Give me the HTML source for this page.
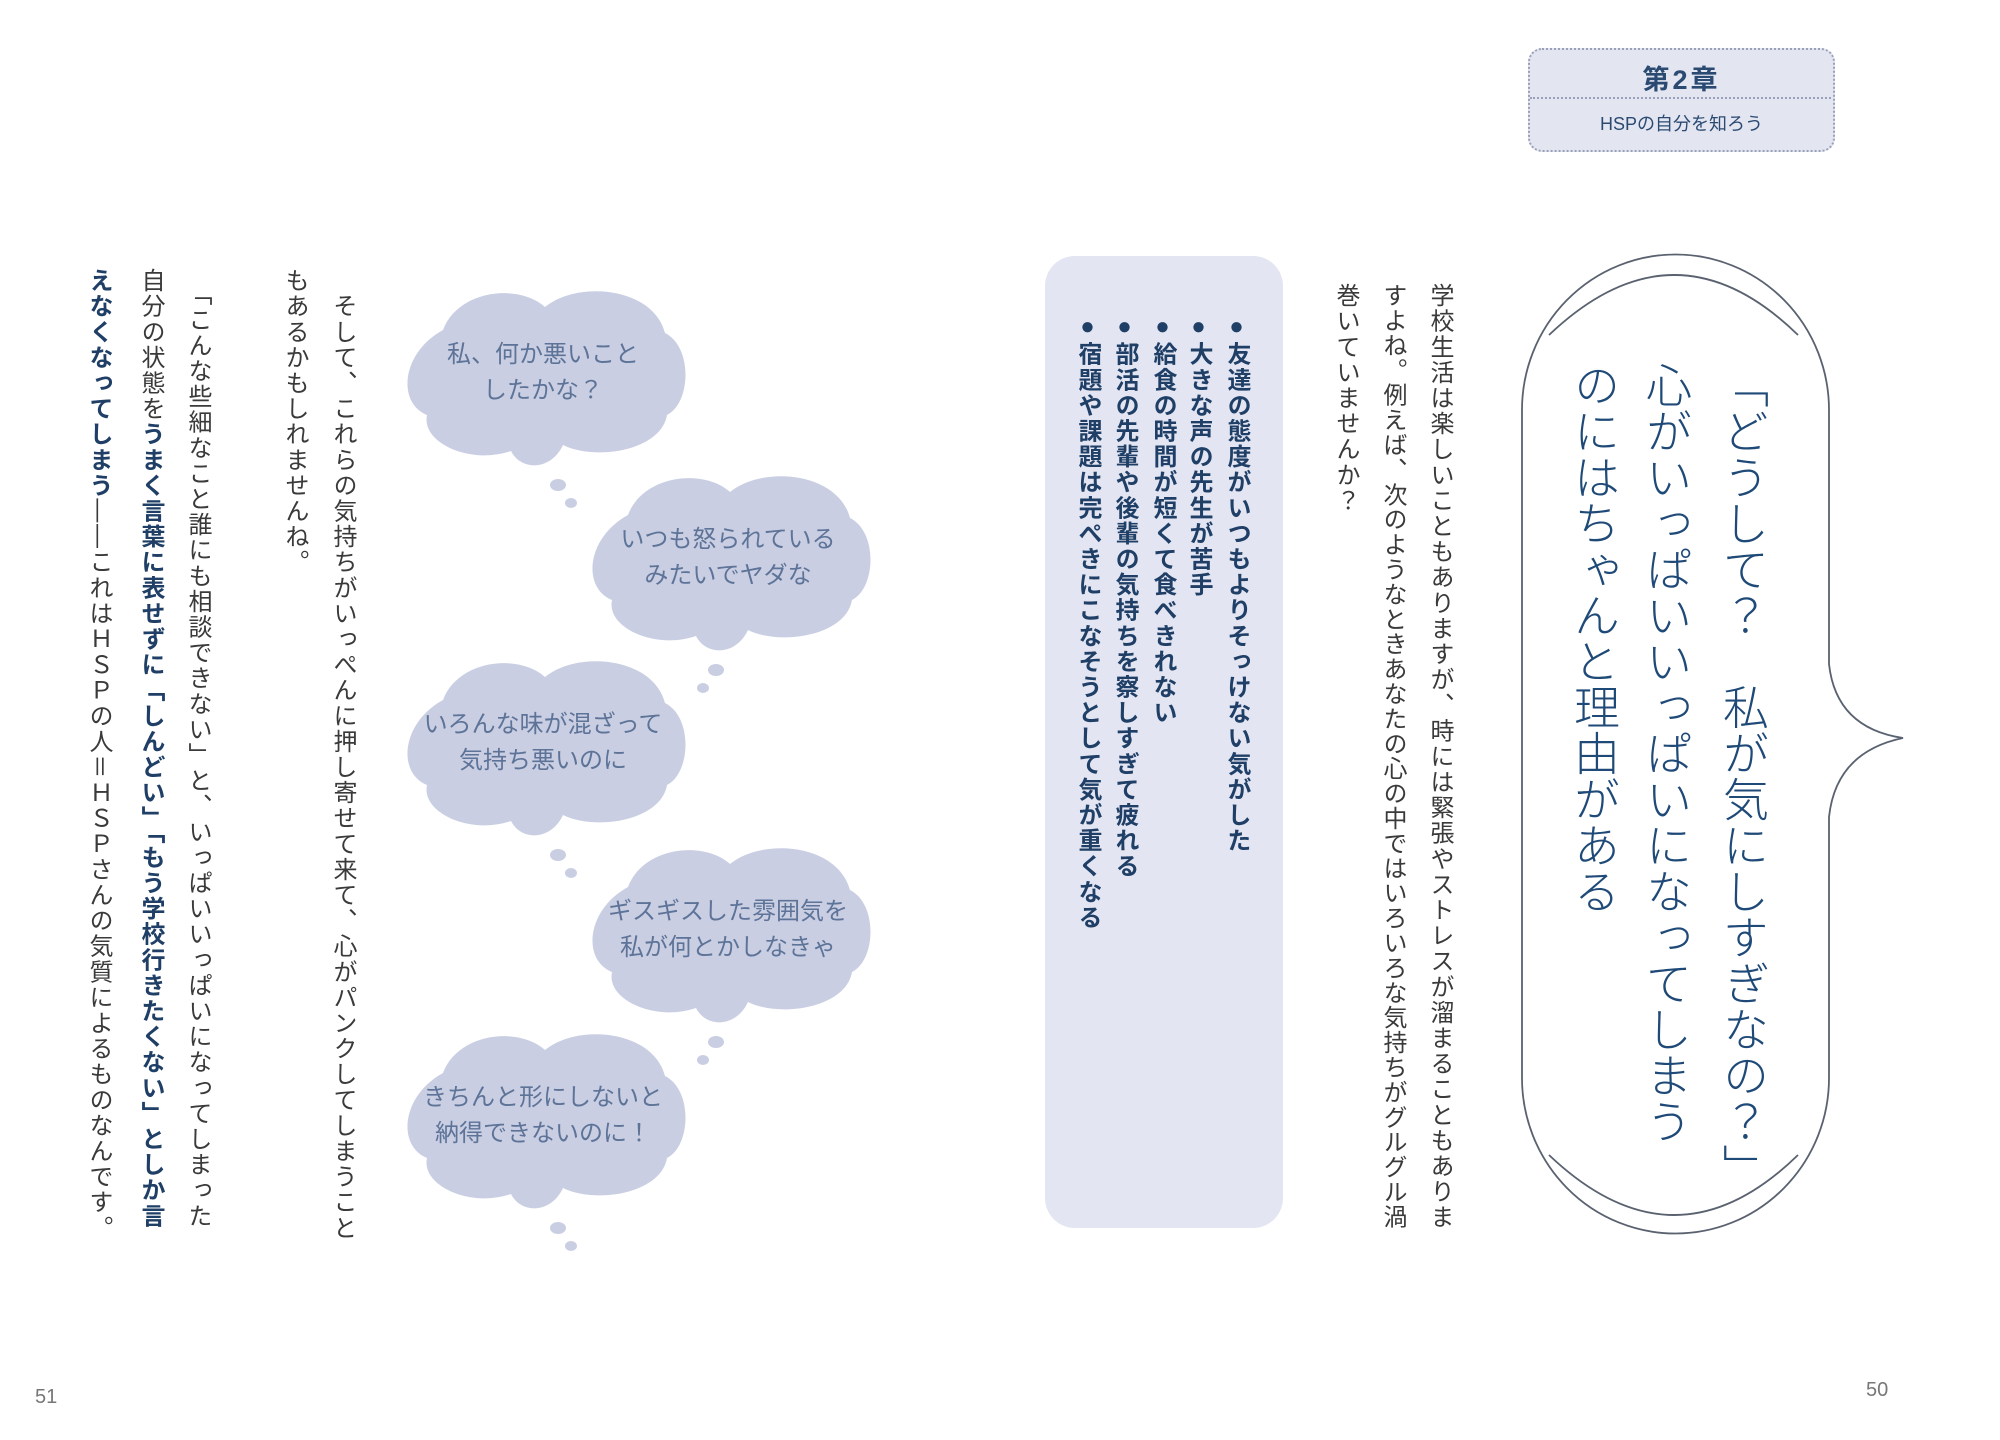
<!DOCTYPE html>
<html><head><meta charset="utf-8">
<style>
html,body{margin:0;padding:0;background:#fff;}
body{width:2000px;height:1440px;position:relative;overflow:hidden;font-family:"Liberation Sans","Noto Sans CJK JP",sans-serif;}
.v{position:absolute;writing-mode:vertical-rl;white-space:nowrap;font-size:24px;letter-spacing:1.6px;line-height:30px;width:30px;color:#3a3a3a;}
.b{font-weight:bold;color:#1f3f66;}
.bl{font-weight:bold;color:#1f3f66;font-size:24px;letter-spacing:1.6px;}
.h{position:absolute;writing-mode:vertical-rl;white-space:nowrap;font-size:46px;line-height:60px;width:60px;color:#1f4a78;letter-spacing:0px;font-weight:300;}
.ct{position:absolute;text-align:center;color:#5d7397;font-size:24px;line-height:36px;width:280px;}
.pn{position:absolute;color:#777;font-size:20px;}
</style></head><body>

<div style="position:absolute;left:1528px;top:48px;width:303px;height:100px;background:#e3e5f1;border:2px dotted #9aa0b8;border-radius:14px;"></div>
<div style="position:absolute;left:1530px;top:97px;width:301px;border-top:2px dotted #9aa0b8;"></div>
<div style="position:absolute;left:1528px;top:58px;width:307px;text-align:center;font-size:27px;font-weight:bold;color:#2a4a72;letter-spacing:3px;">第2章</div>
<div style="position:absolute;left:1528px;top:110px;width:307px;text-align:center;font-size:18px;color:#2a4a72;">HSPの自分を知ろう</div>

<svg width="2000" height="1440" style="position:absolute;left:0;top:0">
 <path d="M1522,410 A153,155 0 0 1 1829,410 L1829,664 Q1836,728 1903,738 Q1836,752 1829,817 L1829,1078 A153,155 0 0 1 1522,1078 Z" fill="none" stroke="#5a6270" stroke-width="1.8"/>
 <path d="M1549,335 Q1675,215 1798,335" fill="none" stroke="#5a6270" stroke-width="1.8"/>
 <path d="M1549,1155 Q1675,1275 1798,1155" fill="none" stroke="#5a6270" stroke-width="1.8"/>
 <rect x="1045" y="256" width="238" height="972" rx="30" fill="#e3e5f2"/>
 <defs>
  <path id="cl" d="M40,55 C55,15 115,8 142,32 C175,5 250,12 262,58 C290,72 288,128 264,140 C258,176 192,186 160,170 C148,196 118,196 108,176 C68,190 18,168 24,140 C-6,128 -2,78 40,55 Z" fill="#c9cee3"/>
 </defs>
 <g transform="translate(403,275)"><use href="#cl"/><ellipse cx="155" cy="210" rx="8" ry="6" fill="#c9cee3"/><ellipse cx="168" cy="228" rx="6" ry="5" fill="#c9cee3"/></g>
 <g transform="translate(588,460)"><use href="#cl"/><ellipse cx="128" cy="210" rx="8" ry="6" fill="#c9cee3"/><ellipse cx="115" cy="228" rx="6" ry="5" fill="#c9cee3"/></g>
 <g transform="translate(403,645)"><use href="#cl"/><ellipse cx="155" cy="210" rx="8" ry="6" fill="#c9cee3"/><ellipse cx="168" cy="228" rx="6" ry="5" fill="#c9cee3"/></g>
 <g transform="translate(588,832)"><use href="#cl"/><ellipse cx="128" cy="210" rx="8" ry="6" fill="#c9cee3"/><ellipse cx="115" cy="228" rx="6" ry="5" fill="#c9cee3"/></g>
 <g transform="translate(403,1018)"><use href="#cl"/><ellipse cx="155" cy="210" rx="8" ry="6" fill="#c9cee3"/><ellipse cx="168" cy="228" rx="6" ry="5" fill="#c9cee3"/></g>
</svg>

<div class="ct" style="left:403px;top:337px;">私、何か悪いこと<br>したかな？</div>
<div class="ct" style="left:588px;top:522px;">いつも怒られている<br>みたいでヤダな</div>
<div class="ct" style="left:403px;top:707px;">いろんな味が混ざって<br>気持ち悪いのに</div>
<div class="ct" style="left:588px;top:894px;">ギスギスした雰囲気を<br>私が何とかしなきゃ</div>
<div class="ct" style="left:403px;top:1080px;">きちんと形にしないと<br>納得できないのに！</div>

<div class="h" style="left:1713px;top:362px;">「どうして？　私が気にしすぎなの？」</div>
<div class="h" style="left:1636px;top:362px;">心がいっぱいいっぱいになってしまう</div>
<div class="h" style="left:1564px;top:362px;">のにはちゃんと理由がある</div>

<div class="v" style="left:1424px;top:283px;">学校生活は楽しいこともありますが、時には緊張やストレスが溜まることもありま</div>
<div class="v" style="left:1377px;top:283px;letter-spacing:0.9px;">すよね。例えば、次のようなときあなたの心の中ではいろいろな気持ちがグルグル渦</div>
<div class="v" style="left:1330px;top:283px;">巻いていませんか？</div>

<div class="v bl" style="left:1221px;top:313px;">●友達の態度がいつもよりそっけない気がした</div>
<div class="v bl" style="left:1183px;top:313px;">●大きな声の先生が苦手</div>
<div class="v bl" style="left:1147px;top:313px;">●給食の時間が短くて食べきれない</div>
<div class="v bl" style="left:1109px;top:313px;">●部活の先輩や後輩の気持ちを察しすぎて疲れる</div>
<div class="v bl" style="left:1072px;top:313px;">●宿題や課題は完ぺきにこなそうとして気が重くなる</div>

<div class="v" style="left:327px;top:268px;">　そして、これらの気持ちがいっぺんに押し寄せて来て、心がパンクしてしまうこと</div>
<div class="v" style="left:279px;top:268px;">もあるかもしれませんね。</div>
<div class="v" style="left:182px;top:268px;">　「こんな些細なこと誰にも相談できない」と、いっぱいいっぱいになってしまった</div>
<div class="v" style="left:135px;top:268px;">自分の状態を<span class="b">うまく言葉に表せずに</span><span class="b">「しんどい」「もう学校行きたくない」としか言</span></div>
<div class="v" style="left:83px;top:268px;"><span class="b">えなくなってしまう</span>――これはＨＳＰの人＝ＨＳＰさんの気質によるものなんです。</div>

<div class="pn" style="left:35px;top:1386px;">51</div>
<div class="pn" style="left:1866px;top:1379px;">50</div>
</body></html>
